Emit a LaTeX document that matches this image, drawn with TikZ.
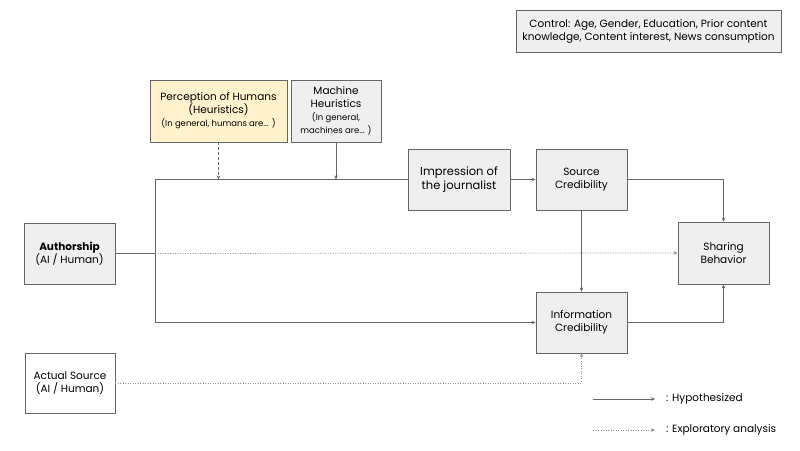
\documentclass[tikz,border=0pt]{standalone}
\usepackage{fontspec}
\setmainfont{Poppins}
\usetikzlibrary{arrows.meta}
\definecolor{boxfill}{HTML}{EFEFEF}
\definecolor{yel}{HTML}{FFF2CC}
\definecolor{edge}{HTML}{666666}
\definecolor{dotc}{HTML}{8A8A8A}
\begin{document}
\begin{tikzpicture}[x=1pt,y=-1pt,
  box/.style={draw=edge, fill=boxfill, line width=0.9pt, align=center, inner sep=0pt, font=\fontsize{10.5}{13}\selectfont},
  conn/.style={draw=edge, line width=0.8pt},
  arr/.style={conn, -{Stealth[length=4pt,width=3.5pt]}},
  dasharr/.style={arr, dash pattern=on 3pt off 2pt},
  dotarr/.style={draw=dotc, line width=0.7pt, dash pattern=on 1pt off 1.5pt, -{Stealth[length=4pt,width=3.5pt]}},
  small/.style={font=\fontsize{8.5}{10.5}\selectfont}
]
\useasboundingbox[fill=white] (0,0) rectangle (800,450);

\node[box, minimum width=265pt, minimum height=42pt] (ctrl) at (648.5,31)
  {Control: Age, Gender, Education, Prior content\\knowledge, Content interest, News consumption};
\node[box, fill=yel, minimum width=137pt, minimum height=62pt] (perc) at (218.5,111)
  {Perception of Humans\\(Heuristics)\\{\fontsize{8.5}{10.5}\selectfont (In general, humans are... )}};
\node[box, minimum width=90pt, minimum height=62pt] (mach) at (336,111)
  {Machine\\Heuristics\\{\fontsize{8.5}{10}\selectfont (In general,}\\{\fontsize{8.5}{10}\selectfont machines are... )}};
\node[box, minimum width=102pt, minimum height=61pt, font=\fontsize{11.5}{14}\selectfont] (imp) at (459,179.5)
  {Impression of\\the journalist};
\node[box, minimum width=91pt, minimum height=61pt] (src) at (581.5,179.5)
  {Source\\Credibility};
\node[box, minimum width=91pt, minimum height=62pt] (share) at (723.5,253)
  {Sharing\\Behavior};
\node[box, minimum width=91pt, minimum height=61pt] (info) at (581.5,322.5)
  {Information\\Credibility};
\node[box, minimum width=91pt, minimum height=61pt] (auth) at (69.5,253.5)
  {\textbf{Authorship}\\(AI / Human)};
\node[box, fill=white, minimum width=90pt, minimum height=60pt] (actual) at (70,383)
  {Actual Source\\(AI / Human)};

\coordinate (j) at (155,253.5);
\coordinate (jt) at (155,179.5);
\coordinate (jb) at (155,322.5);

\draw[conn] (auth.east) -- (j);
\draw[conn] (jt) -- (jb);
\draw[conn] (jt) -- (imp.west);
\draw[arr] (jb) -- (info.west);
\draw[dasharr] (perc.south) -- (perc.south |- jt);
\draw[arr] (mach.south) -- (mach.south |- jt);
\draw[dotarr] (j) -- (share.west);
\draw[arr] (imp.east) -- (src.west);
\draw[arr] (src.east) -| (share.north);
\draw[arr] (src.south) -- (info.north);
\draw[arr] (info.east) -| (share.south);
\draw[dotarr] (actual.east) -| (info.south);

% legend
\coordinate (la1) at (593,399);
\coordinate (lb1) at (655,399);
\coordinate (la2) at (593,430);
\coordinate (lb2) at (655,430);
\draw[arr] (la1) -- (lb1);
\draw[dotarr] (la2) -- (lb2);
\node[anchor=west, inner sep=0pt, font=\fontsize{10.5}{13}\selectfont] (lh) at (666,399) {: Hypothesized};
\node[anchor=west, inner sep=0pt, font=\fontsize{10.5}{13}\selectfont] (le) at (666,430) {: Exploratory analysis};
\end{tikzpicture}
\end{document}
